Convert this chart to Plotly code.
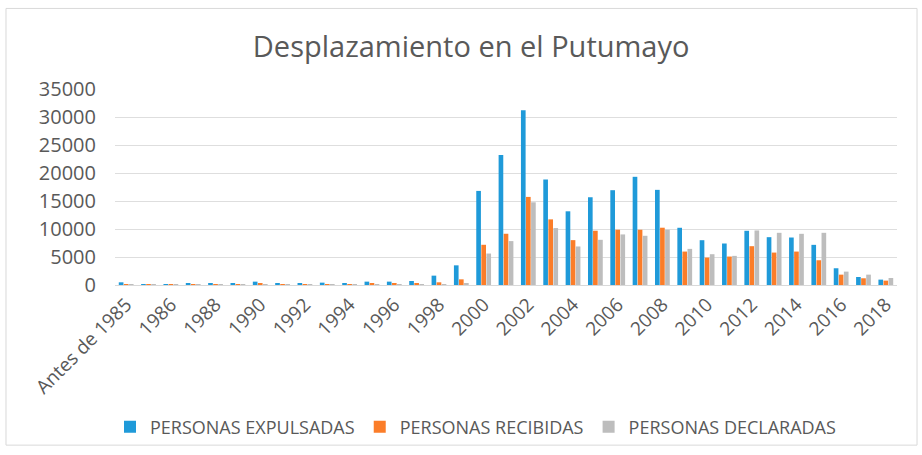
import plotly.graph_objects as go

categories = ["Antes de 1985"] + [str(y) for y in range(1985, 2019)]

expulsadas = [480, 90, 90, 300, 300, 300, 600, 300, 300, 420, 300, 600, 600, 714, 1670, 3510,
              16800, 23200, 31200, 18840, 13160, 15670, 16930, 19320, 16990,
              10220, 8000, 7410, 9680, 8540, 8480, 7170, 2990, 1430, 960]
recibidas = [60, 20, 20, 40, 40, 40, 350, 100, 100, 80, 80, 350, 350, 350, 480, 1010,
             7180, 9150, 15730, 11720, 8010, 9690, 9870, 9870, 10230,
             5970, 4900, 5080, 6930, 5790, 5970, 4420, 1850, 1200, 780]
declaradas = [20, 10, 10, 20, 20, 20, 60, 40, 40, 30, 30, 120, 150, 150, 150, 200,
              5620, 7840, 14770, 10170, 6880, 8070, 9030, 8790, 9870,
              6450, 5500, 5200, 9740, 9320, 9140, 9320, 2390, 1850, 1250]
tick_labels = categories[::2]

series_names = ["PERSONAS EXPULSADAS", "PERSONAS RECIBIDAS", "PERSONAS DECLARADAS"]
colors = ["#1f9ad9", "#fb7d29", "#bdbdbd"]

fig = go.Figure()
for name, vals, col in zip(series_names, [expulsadas, recibidas, declaradas], colors):
    fig.add_trace(go.Bar(x=categories, y=vals, name=name, marker_color=col,
                         marker_line_width=0))

font_family = "Open Sans, Calibri, sans-serif"
gray = "#595959"

fig.update_layout(
    width=922, height=455,
    paper_bgcolor="white", plot_bgcolor="white",
    margin=dict(l=115, r=25, t=89, b=169),
    barmode="group", bargap=0.32, bargroupgap=0.08,
    title=dict(text="Desplazamiento en el Putumayo", x=0.511, xanchor="center",
               y=0.897, yanchor="middle",
               font=dict(family=font_family, size=29, color=gray)),
    font=dict(family=font_family, color=gray),
    showlegend=True,
    legend=dict(orientation="h", x=0.461, xanchor="center", y=-0.716, yanchor="middle",
                font=dict(family=font_family, size=18, color=gray),
                bgcolor="rgba(0,0,0,0)",
                itemwidth=30, traceorder="normal", itemsizing="constant"),
    xaxis=dict(type="category", tickmode="array", tickvals=tick_labels, ticktext=tick_labels,
               tickangle=-45, tickfont=dict(size=19, color=gray), showgrid=False,
               showline=True, linecolor="#d9d9d9", linewidth=1, ticks=""),
    yaxis=dict(range=[0, 35000], dtick=5000, tickfont=dict(size=20, color=gray),
               gridcolor="#dedede", gridwidth=1, showline=False, zeroline=False,
               ticks="", ticklen=0, tickformat="d", ticklabelstandoff=18),
    shapes=[dict(type="rect", xref="paper", yref="paper",
                 x0=-0.1394, x1=1.0256, y0=-0.817, y1=1.411,
                 line=dict(color="#d9d9d9", width=1), layer="below")],
)

fig.write_html("out.html", config={"displayModeBar": False},
               post_script="document.body.style.margin='0';")
